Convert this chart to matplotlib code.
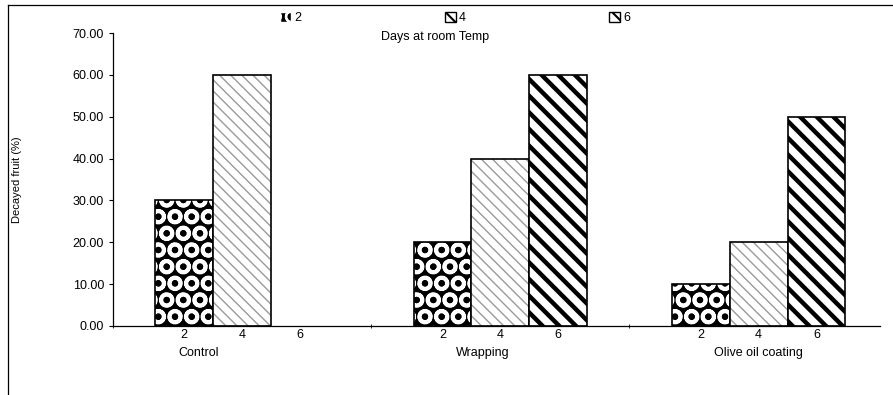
import numpy as np
import matplotlib.pyplot as plt
from matplotlib.lines import Line2D
from matplotlib.patches import Patch

# data
treatments = ['Control', 'Wrapping', 'Olive oil coating']
days = ['2', '4', '6']
day2 = [30, 20, 10]
day4 = [60, 40, 20]
day6 = [0, 60, 50]
yticks = [0, 10, 20, 30, 40, 50, 60, 70]

plt.rcParams['font.family'] = ['Liberation Sans', 'DejaVu Sans']

fig = plt.figure(figsize=(8.93, 3.95), dpi=100)
ax = fig.add_axes([113 / 893, 69 / 395, 767 / 893, 293 / 395])

x = np.arange(len(treatments))
w = 0.224
offsets = [-w, 0, w]


def edge_widths(vals):
    return [1.2 if v > 0 else 0 for v in vals]


# day 2: black with white dots (checker look)
plt.rcParams['hatch.linewidth'] = 2.7
ax.bar(x + offsets[0], day2, w, color='black', edgecolor='white', hatch='O', lw=0)
ax.bar(x + offsets[0], day2, w, fill=False, edgecolor='black', lw=edge_widths(day2))
# day 4: light dashed diagonal hatch
plt.rcParams['hatch.linewidth'] = 1.0
ax.bar(x + offsets[1], day4, w, color='white', edgecolor='#9a9a9a', hatch='\\\\\\', lw=0)
ax.bar(x + offsets[1], day4, w, fill=False, edgecolor='black', lw=edge_widths(day4))
# day 6: bold diagonals
plt.rcParams['hatch.linewidth'] = 3.2
ax.bar(x + offsets[2], day6, w, color='white', edgecolor='black', hatch='\\\\', lw=0)
ax.bar(x + offsets[2], day6, w, fill=False, edgecolor='black', lw=edge_widths(day6))

ax.set_xlim(-0.5, 2.47)
ax.set_ylim(0, 70)
ax.set_yticks(yticks)
ax.set_yticklabels(['%.2f' % v for v in yticks], fontsize=9)
ax.tick_params(axis='y', length=3, width=0.8)

centers = np.concatenate([x + o for o in offsets])
centers.sort()
ax.set_xticks(centers)
ax.set_xticklabels(days * len(treatments), fontsize=9)
ax.tick_params(axis='x', length=0, pad=2)
ax.set_xticks([-0.5, 0.5, 1.5], minor=True)
ax.tick_params(axis='x', which='minor', length=3, direction='inout')

label_shift = [-0.17, -0.07, 0.0]
for i, t in enumerate(treatments):
    ax.text(x[i] + label_shift[i], -5.0, t, ha='center', va='top', fontsize=9)

ax.spines['top'].set_visible(False)
ax.spines['right'].set_visible(False)
ax.spines['left'].set_linewidth(0.9)
ax.spines['bottom'].set_linewidth(0.9)

ax.set_ylabel('Decayed fruit (%)', fontsize=8)
ax.yaxis.set_label_coords(-0.118, 0.5)

plt.rcParams['hatch.linewidth'] = 1.5
handles = [Patch(facecolor='black', edgecolor='white', hatch='O'),
           Patch(facecolor='white', edgecolor='black', hatch='\\\\\\'),
           Patch(facecolor='white', edgecolor='black', hatch='\\\\')]
fig.legend(handles, days, loc='center', bbox_to_anchor=(455 / 893, 1 - 18 / 395),
           ncol=3, frameon=False, fontsize=9, handlelength=0.9, handleheight=0.9,
           handletextpad=0.2, columnspacing=11.5)
fig.text(435 / 893, 1 - 37 / 395, 'Days at room Temp', ha='center', va='center', fontsize=9)

# outer frame of the scanned figure
fig.add_artist(Line2D([8 / 893, 8 / 893], [0, 1 - 5 / 395], color='black', lw=0.9))
fig.add_artist(Line2D([8 / 893, 1], [1 - 5 / 395, 1 - 5 / 395], color='black', lw=0.9))

fig.savefig('out.png', dpi=100)
